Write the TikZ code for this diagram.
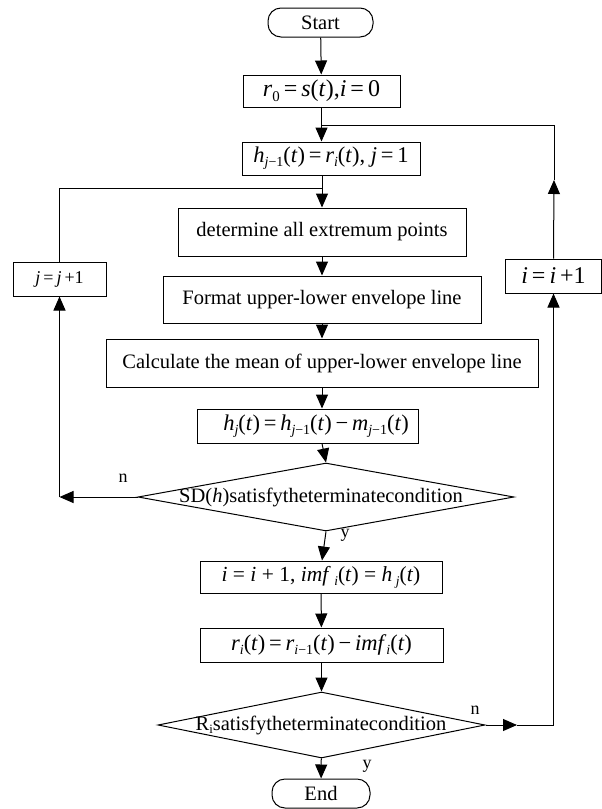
\documentclass[tikz,border=0pt]{standalone}
\usepackage{fontspec}
\setmainfont{Liberation Serif}
\usetikzlibrary{arrows.meta,shapes.geometric}
\newcommand\mv[1]{\textit{#1}}
\newcommand\sbs[1]{\raisebox{-0.4ex}{\scalebox{0.62}{#1}}}
\begin{document}
\begin{tikzpicture}[x=1pt,y=-1pt,
  every node/.style={font=\fontsize{20.5}{24}\selectfont},
  flowbox/.style={draw,line width=1pt,inner sep=0pt,rectangle},
  termbox/.style={draw,line width=1pt,inner sep=0pt,rounded corners=13pt},
  decbox/.style={draw,line width=1pt,inner sep=0pt,diamond},
  lbl/.style={font=\fontsize{18}{20}\selectfont,inner sep=0pt},
  conn/.style={line width=1pt},
  arr/.style={line width=1pt,-{Triangle[length=14pt,width=12pt]}}]
\useasboundingbox (0,0) rectangle (602,809);
% nodes
\node[termbox,minimum width=105pt,minimum height=29pt] (start) at (320.5,22.5) {Start};
\node[flowbox,minimum width=157pt,minimum height=32pt] (r0) at (321.5,91) {\fontsize{24}{26}\selectfont\mv{r}\sbs{0}\,=\,\mv{s}(\mv{t}),\mv{i}\,=\,0};
\node[flowbox,minimum width=178pt,minimum height=33pt] (h) at (331,158.5) {\fontsize{22.5}{24}\selectfont\mv{h}\sbs{\mv{j}−1}(\mv{t})\,=\,\mv{r}\sbs{\mv{i}}(\mv{t}), \mv{j}\,=\,1};
\node[flowbox,minimum width=288pt,minimum height=48pt] (det) at (322,232) {determine all extremum points};
\node[flowbox,minimum width=93pt,minimum height=34pt] (jb) at (59.5,279) {\fontsize{18}{20}\selectfont\mv{j}\,=\,\mv{j}\,+1};
\node[flowbox,minimum width=96pt,minimum height=34pt] (ib) at (553.5,276) {\fontsize{24}{26}\selectfont\mv{i}\,=\,\mv{i}\,+1};
\node[flowbox,minimum width=318pt,minimum height=47pt] (fmt) at (322,299.5) {Format upper-lower envelope line};
\node[flowbox,minimum width=432pt,minimum height=48pt] (calc) at (322,363) {Calculate the mean of upper-lower envelope line};
\node[flowbox,minimum width=221pt,minimum height=34pt] (hj) at (307.5,426) {};
\node[inner sep=0pt,font=\fontsize{22.5}{24}\selectfont] (hjt) at (316,426) {\mv{h}\sbs{\mv{j}}(\mv{t})\,=\,\mv{h}\sbs{\mv{j}−1}(\mv{t})\,−\,\mv{m}\sbs{\mv{j}−1}(\mv{t})};
\node[decbox,minimum width=376pt,minimum height=68pt] (sd) at (326,497) {};
\node[inner sep=0pt] (sdt) at (321,497) {SD(\mv{h})satisfytheterminatecondition};
\node[flowbox,minimum width=242pt,minimum height=32pt] (imf) at (321,577) {\fontsize{21.5}{24}\selectfont\mv{i} = \mv{i} + 1, \mv{imf}\,\sbs{\mv{i}}(\mv{t}) = \mv{h}\,\sbs{\mv{j}}(\mv{t})};
\node[flowbox,minimum width=243pt,minimum height=34pt] (ri) at (321.5,645) {\fontsize{22.5}{24}\selectfont\mv{r}\sbs{\mv{i}}(\mv{t})\,=\,\mv{r}\sbs{\mv{i}−1}(\mv{t})\,−\,\mv{imf}\sbs{\mv{i}}(\mv{t})};
\node[decbox,minimum width=327pt,minimum height=66pt] (rd) at (321.5,725) {};
\node[inner sep=0pt] (rdt) at (321,725) {R\sbs{i}satisfytheterminatecondition};
\node[termbox,minimum width=98pt,minimum height=29pt] (end) at (321,793.5) {End};
% labels
\node[lbl] (ln1) at (123,478) {n};
\node[lbl] (ly1) at (345,535) {y};
\node[lbl] (ln2) at (475,710) {n};
\node[lbl] (ly2) at (367,766) {y};
% coordinates
\coordinate (topj) at (322,125);
\coordinate (rtop) at (554,125);
\coordinate (rmid) at (554,180);
\coordinate (jj) at (322,188);
\coordinate (lj) at (59.5,188);
\coordinate (lc) at (59.5,497);
\coordinate (rc) at (517,725);
\coordinate (rc2) at (553.5,725);
% connectors
\draw[arr] (start) -- (r0);
\draw[arr] (r0.south) -- (r0.south |- h.north);
\draw[arr] (ib.north) -- (rmid);
\draw[conn] (rmid) -- (rtop) -- (topj);
\draw[arr] (h.south -| det.north) -- (det.north);
\draw[conn] (jb.north) -- (lj) -- (jj);
\draw[arr] (det) -- (fmt);
\draw[arr] (fmt) -- (calc);
\draw[arr] (calc.south) -- (calc.south |- hj.north);
\draw[arr] (hj.south -| calc.south) -- (sd.north);
\draw[arr] (sd.west) -- (lc);
\draw[arr] (lc) -- (jb.south);
\draw[arr] (sd.south) -- (imf.north -| calc.south);
\draw[arr] (imf) -- (ri);
\draw[arr] (ri) -- (rd);
\draw[arr] (rd) -- (end);
\draw[arr] (rd.east) -- (rc);
\draw[arr] (rc) -- (rc2) -- (ib.south);
\end{tikzpicture}
\end{document}
